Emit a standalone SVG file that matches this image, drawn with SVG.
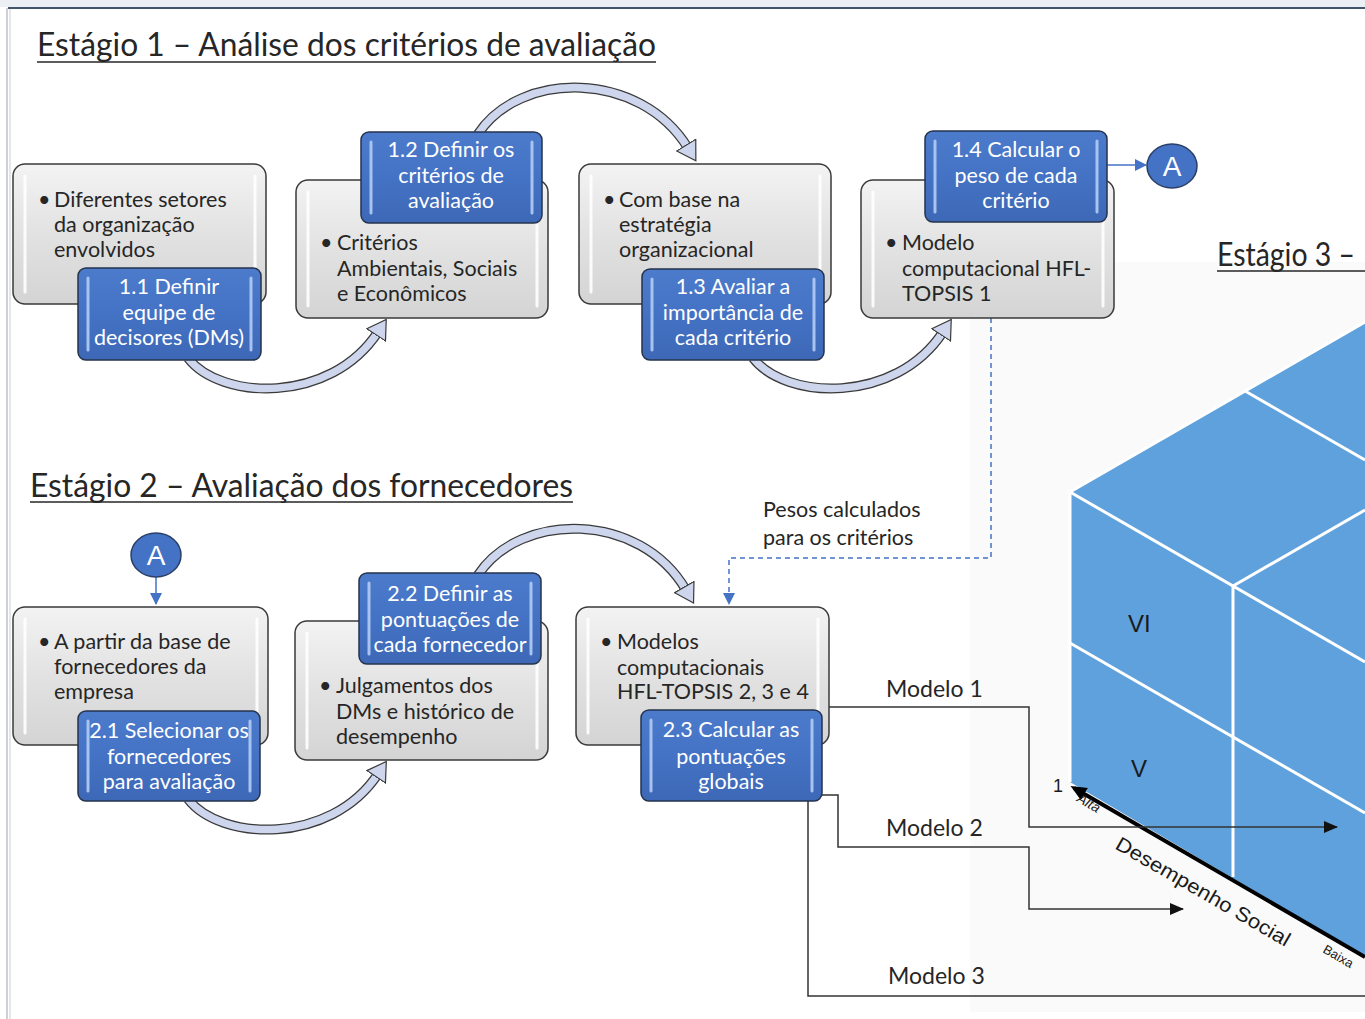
<svg xmlns="http://www.w3.org/2000/svg" width="1365" height="1019" viewBox="0 0 1365 1019">
<defs>
<linearGradient id="gGray" x1="0" y1="0" x2="0" y2="1">
<stop offset="0" stop-color="#f3f3f3"/><stop offset="0.5" stop-color="#e2e2e2"/><stop offset="1" stop-color="#d4d4d4"/>
</linearGradient>
<linearGradient id="gBlue" x1="0" y1="0" x2="0" y2="1">
<stop offset="0" stop-color="#4d7bcc"/><stop offset="0.5" stop-color="#4472c4"/><stop offset="1" stop-color="#3d68b6"/>
</linearGradient>
<marker id="blk" viewBox="0 0 20 24" markerWidth="20" markerHeight="24" refX="4" refY="12" orient="auto" markerUnits="userSpaceOnUse">
<path d="M0.6,0.8 L19,12 L0.6,23.2 Z" fill="#cdd6ec" stroke="#3a3a3a" stroke-width="1.2"/>
</marker>
<marker id="arr" viewBox="0 0 14 12" markerWidth="14" markerHeight="12" refX="13" refY="6" orient="auto" markerUnits="userSpaceOnUse">
<path d="M0,0 L14,6 L0,12 Z" fill="#111"/>
</marker>
<marker id="arrB" viewBox="0 0 12 12" markerWidth="12" markerHeight="12" refX="11" refY="6" orient="auto" markerUnits="userSpaceOnUse">
<path d="M0,0 L12,6 L0,12 Z" fill="#4472c4"/>
</marker>
<marker id="axis" viewBox="0 0 16 14" markerWidth="16" markerHeight="14" refX="12" refY="7" orient="auto" markerUnits="userSpaceOnUse">
<path d="M0,0 L16,7 L0,14 Z" fill="#000"/>
</marker>
</defs>
<style>
.gray{fill:url(#gGray);stroke:#3a3a3a;stroke-width:1.5}
.blue{fill:url(#gBlue);stroke:#26334d;stroke-width:1.5}
.hlw{stroke:#ffffff;stroke-width:3;stroke-linecap:round;opacity:0.9}
.hlb{stroke:#a8c3f0;stroke-width:3;stroke-linecap:round}
.t{font-family:Lato,"Open Sans","Liberation Sans",sans-serif;font-size:21.5px;fill:#262626}
.tw{font-family:Lato,"Open Sans","Liberation Sans",sans-serif;font-size:21.5px;fill:#ffffff;text-anchor:middle}
.title{font-family:Lato,"Open Sans","Liberation Sans",sans-serif;font-weight:400;font-size:33px;fill:#262626}
.ul{stroke:#262626;stroke-width:1.5}
.bodyO{fill:none;stroke:#3a3a3a;stroke-width:10}
.bodyI{fill:none;stroke:#cdd6ec;stroke-width:7.5;marker-end:url(#blk)}
.mline{fill:none;stroke:#333;stroke-width:1.5}
.ml{font-family:Lato,"Open Sans","Liberation Sans",sans-serif;font-size:23px;fill:#262626}
.ar{font-family:"Liberation Sans",Arial,sans-serif;fill:#1a1a1a}
.circ{fill:#4472c4;stroke:#2a3f66;stroke-width:1.5}
.cw{font-family:"Liberation Sans",Arial,sans-serif;font-size:28px;fill:#ffffff;text-anchor:middle}
.wl{stroke:#ffffff;stroke-width:3}
</style>

<!-- page background -->
<rect x="0" y="0" width="1365" height="1019" fill="#ffffff"/>
<rect x="0" y="0" width="1365" height="7" fill="#eceff3"/>
<rect x="970" y="262" width="395" height="750" fill="#fafafa"/>
<line x1="8" y1="8" x2="1365" y2="8" stroke="#44546a" stroke-width="2"/>
<line x1="7" y1="8" x2="7" y2="1019" stroke="#9aa3ad" stroke-width="1"/>
<line x1="10" y1="9" x2="10" y2="1019" stroke="#c9ced4" stroke-width="1"/>

<!-- titles -->
<g id="title1">
<text class="title" x="37" y="56" textLength="619" lengthAdjust="spacingAndGlyphs">Estágio 1 – Análise dos critérios de avaliação</text>
<line class="ul" x1="37" y1="62" x2="656" y2="62"/>
</g>
<g id="title2">
<text class="title" x="30" y="497" textLength="543" lengthAdjust="spacingAndGlyphs">Estágio 2 – Avaliação dos fornecedores</text>
<line class="ul" x1="30" y1="502" x2="573" y2="502"/>
</g>
<g id="title3">
<text class="title" x="1217" y="266" textLength="138" lengthAdjust="spacingAndGlyphs">Estágio 3 –</text>
<line class="ul" x1="1217" y1="271" x2="1365" y2="271"/>
</g>

<!-- cube -->
<g id="cube">
<polygon points="1070,492 1365,322 1365,956 1070,782" fill="#5fa1dc"/>
<line class="wl" x1="1070" y1="492" x2="1365" y2="662"/>
<line class="wl" x1="1070" y1="643" x2="1365" y2="813"/>
<line class="wl" x1="1233" y1="586" x2="1233" y2="877"/>
<line class="wl" x1="1233" y1="586" x2="1365" y2="510"/>
<line class="wl" x1="1245" y1="391" x2="1365" y2="460"/>
<line class="wl" x1="1070" y1="492" x2="1365" y2="322" stroke-width="2"/>
<line class="wl" x1="1070" y1="492" x2="1070" y2="782" stroke-width="2"/>
<text class="ar" x="1128" y="632" font-size="24">VI</text>
<text class="ar" x="1131" y="777" font-size="24">V</text>
<text class="ar" x="1053" y="792" font-size="18">1</text>
<line x1="1365" y1="957" x2="1074" y2="788" stroke="#000" stroke-width="4" marker-end="url(#axis)"/>
<text class="ar" x="1076" y="801" font-size="14" font-style="italic" transform="rotate(30 1076 801)">Alta</text>
<text class="ar" x="1114" y="848" font-size="20" textLength="198" lengthAdjust="spacingAndGlyphs" transform="rotate(30 1114 848)">Desempenho Social</text>
<text class="ar" x="1322" y="952" font-size="13" transform="rotate(30 1322 952)">Baixa</text>
</g>

<!-- connectors -->
<g id="connectors">
<path class="bodyO" d="M188,358 C220,400 330,405 378,332"/>
<path class="bodyI" d="M188,358 C220,400 330,405 378,332"/>
<path class="bodyO" d="M478,134 C520,70 640,70 688,148"/>
<path class="bodyI" d="M478,134 C520,70 640,70 688,148"/>
<path class="bodyO" d="M753,358 C785,400 895,405 943,332"/>
<path class="bodyI" d="M753,358 C785,400 895,405 943,332"/>
<path class="bodyO" d="M188,799 C220,841 330,846 378,774"/>
<path class="bodyI" d="M188,799 C220,841 330,846 378,774"/>
<path class="bodyO" d="M478,575 C520,511 640,511 686,590"/>
<path class="bodyI" d="M478,575 C520,511 640,511 686,590"/>

<line x1="1107" y1="165" x2="1146" y2="165" stroke="#4472c4" stroke-width="1.5" marker-end="url(#arrB)"/>
<line x1="156" y1="577" x2="156" y2="604" stroke="#4472c4" stroke-width="1.5" marker-end="url(#arrB)"/>
<path d="M991,318 V558 H729 V604" fill="none" stroke="#4472c4" stroke-width="1.5" stroke-dasharray="5,4" marker-end="url(#arrB)"/>
<text class="t" x="763" y="517" font-size="20">Pesos calculados</text>
<text class="t" x="763" y="545" font-size="20">para os critérios</text>

<path class="mline" d="M829,707 H1029 V827 H1337" marker-end="url(#arr)"/>
<path class="mline" d="M822,795 H838 V847 H1029 V909 H1183" marker-end="url(#arr)"/>
<path class="mline" d="M808,801 V996 H1365"/>
<text class="ml" x="886" y="697">Modelo 1</text>
<text class="ml" x="886" y="836">Modelo 2</text>
<text class="ml" x="888" y="984">Modelo 3</text>
</g>

<!-- Stage 1 nodes -->
<g id="n1">
<rect class="gray" x="13" y="164" width="253" height="140" rx="12"/>
<line class="hlw" x1="25" y1="176" x2="25" y2="292"/><line class="hlw" x1="255" y1="176" x2="255" y2="292"/>
<text class="t" x="38" y="207">•</text>
<text class="t" x="54" y="207">Diferentes setores</text>
<text class="t" x="54" y="232">da organização</text>
<text class="t" x="54" y="257">envolvidos</text>
<rect class="blue" x="78" y="268" width="183" height="92" rx="8"/>
<line class="hlb" x1="88" y1="278" x2="88" y2="350"/><line class="hlb" x1="251" y1="278" x2="251" y2="350"/>
<text class="tw" x="169" y="294">1.1 Definir</text>
<text class="tw" x="169" y="320">equipe de</text>
<text class="tw" x="169" y="345">decisores (DMs)</text>
</g>
<g id="n2">
<rect class="gray" x="296" y="180" width="252" height="138" rx="12"/>
<line class="hlw" x1="308" y1="192" x2="308" y2="306"/><line class="hlw" x1="537" y1="192" x2="537" y2="306"/>
<text class="t" x="320" y="250">•</text>
<text class="t" x="337" y="250">Critérios</text>
<text class="t" x="337" y="276">Ambientais, Sociais</text>
<text class="t" x="337" y="301">e Econômicos</text>
<rect class="blue" x="361" y="132" width="181" height="91" rx="8"/>
<line class="hlb" x1="371" y1="142" x2="371" y2="213"/><line class="hlb" x1="532" y1="142" x2="532" y2="213"/>
<text class="tw" x="451" y="157">1.2 Definir os</text>
<text class="tw" x="451" y="183">critérios de</text>
<text class="tw" x="451" y="208">avaliação</text>
</g>
<g id="n3">
<rect class="gray" x="579" y="164" width="252" height="140" rx="12"/>
<line class="hlw" x1="591" y1="176" x2="591" y2="292"/><line class="hlw" x1="820" y1="176" x2="820" y2="292"/>
<text class="t" x="603" y="207">•</text>
<text class="t" x="619" y="207">Com base na</text>
<text class="t" x="619" y="232">estratégia</text>
<text class="t" x="619" y="257">organizacional</text>
<rect class="blue" x="642" y="269" width="182" height="91" rx="8"/>
<line class="hlb" x1="652" y1="279" x2="652" y2="350"/><line class="hlb" x1="814" y1="279" x2="814" y2="350"/>
<text class="tw" x="733" y="294">1.3 Avaliar a</text>
<text class="tw" x="733" y="320">importância de</text>
<text class="tw" x="733" y="345">cada critério</text>
</g>
<g id="n4">
<rect class="gray" x="861" y="180" width="253" height="138" rx="12"/>
<line class="hlw" x1="873" y1="192" x2="873" y2="306"/><line class="hlw" x1="1103" y1="192" x2="1103" y2="306"/>
<text class="t" x="885" y="250">•</text>
<text class="t" x="902" y="250">Modelo</text>
<text class="t" x="902" y="276">computacional HFL-</text>
<text class="t" x="902" y="301">TOPSIS 1</text>
<rect class="blue" x="925" y="131" width="182" height="91" rx="8"/>
<line class="hlb" x1="935" y1="141" x2="935" y2="212"/><line class="hlb" x1="1097" y1="141" x2="1097" y2="212"/>
<text class="tw" x="1016" y="157">1.4 Calcular o</text>
<text class="tw" x="1016" y="183">peso de cada</text>
<text class="tw" x="1016" y="208">critério</text>
</g>
<g id="A1">
<ellipse class="circ" cx="1172" cy="166" rx="25" ry="22"/>
<text class="cw" x="1172" y="176">A</text>
</g>

<!-- Stage 2 nodes -->
<g id="A2">
<ellipse class="circ" cx="156" cy="555" rx="25" ry="22"/>
<text class="cw" x="156" y="565">A</text>
</g>
<g id="n5">
<rect class="gray" x="13" y="607" width="255" height="138" rx="12"/>
<line class="hlw" x1="25" y1="619" x2="25" y2="733"/><line class="hlw" x1="257" y1="619" x2="257" y2="733"/>
<text class="t" x="38" y="649">•</text>
<text class="t" x="54" y="649">A partir da base de</text>
<text class="t" x="54" y="674">fornecedores da</text>
<text class="t" x="54" y="699">empresa</text>
<rect class="blue" x="78" y="711" width="182" height="90" rx="8"/>
<line class="hlb" x1="88" y1="721" x2="88" y2="791"/><line class="hlb" x1="250" y1="721" x2="250" y2="791"/>
<text class="tw" x="169" y="738">2.1 Selecionar os</text>
<text class="tw" x="169" y="764">fornecedores</text>
<text class="tw" x="169" y="789">para avaliação</text>
</g>
<g id="n6">
<rect class="gray" x="295" y="621" width="253" height="139" rx="12"/>
<line class="hlw" x1="307" y1="633" x2="307" y2="748"/><line class="hlw" x1="537" y1="633" x2="537" y2="748"/>
<text class="t" x="319" y="693">•</text>
<text class="t" x="336" y="693">Julgamentos dos</text>
<text class="t" x="336" y="719">DMs e histórico de</text>
<text class="t" x="336" y="744">desempenho</text>
<rect class="blue" x="359" y="573" width="182" height="91" rx="8"/>
<line class="hlb" x1="369" y1="583" x2="369" y2="654"/><line class="hlb" x1="531" y1="583" x2="531" y2="654"/>
<text class="tw" x="450" y="601">2.2 Definir as</text>
<text class="tw" x="450" y="627">pontuações de</text>
<text class="tw" x="450" y="652">cada fornecedor</text>
</g>
<g id="n7">
<rect class="gray" x="576" y="607" width="253" height="138" rx="12"/>
<line class="hlw" x1="588" y1="619" x2="588" y2="733"/><line class="hlw" x1="818" y1="619" x2="818" y2="733"/>
<text class="t" x="600" y="649">•</text>
<text class="t" x="617" y="649">Modelos</text>
<text class="t" x="617" y="675">computacionais</text>
<text class="t" x="617" y="699">HFL-TOPSIS 2, 3 e 4</text>
<rect class="blue" x="641" y="710" width="181" height="91" rx="8"/>
<line class="hlb" x1="651" y1="720" x2="651" y2="791"/><line class="hlb" x1="812" y1="720" x2="812" y2="791"/>
<text class="tw" x="731" y="737">2.3 Calcular as</text>
<text class="tw" x="731" y="764">pontuações</text>
<text class="tw" x="731" y="789">globais</text>
</g>
</svg>
